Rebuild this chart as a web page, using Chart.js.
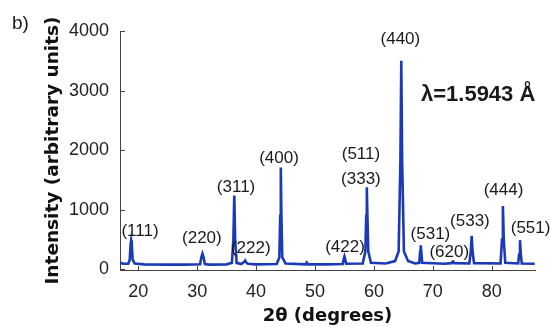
<!DOCTYPE html>
<html>
<head>
<meta charset="utf-8">
<script src="https://cdn.jsdelivr.net/npm/chart.js@4/dist/chart.umd.min.js"></script>
<style>
html,body{margin:0;padding:0;background:#fff;}
canvas{display:block;}
</style>
</head>
<body>
<canvas id="c" width="550" height="327"></canvas>
<script>
// ---- data ----
const twoTheta = [16.9,17.5,18.3,18.55,18.7,18.8,18.9,19.05,19.4,21,25,28,30.5,30.7,30.9,31.1,31.3,32,35,35.9,36.15,36.3,36.45,36.7,37.5,38.0,38.15,38.3,38.6,40,43.5,43.95,44.1,44.2,44.3,44.45,45,48.4,48.6,48.8,52,54.7,54.9,55.0,55.1,55.3,58.1,58.55,58.7,58.8,58.9,59.05,59.5,62,63.6,64.2,64.5,64.65,64.8,65.1,65.8,67,67.7,67.85,67.95,68.05,68.2,72,73.2,73.35,73.5,73.65,76.2,76.45,76.6,76.75,77.0,81.5,81.75,81.9,82.05,82.3,84.5,84.65,84.8,84.95,85.1,87.3];
const intensity = [110,95,95,160,420,490,420,160,100,85,80,80,85,200,265,200,90,80,85,110,500,1240,500,110,90,130,150,120,95,85,90,200,900,1710,900,200,100,85,115,85,85,90,180,215,180,95,100,300,900,1380,900,300,110,100,140,300,1800,3500,1800,300,140,100,110,300,405,300,110,95,105,130,130,105,100,300,565,300,105,100,500,1065,500,110,100,250,490,250,100,95];
const peakLabels = ['(111)','(220)','(311)','(222)','(400)','(422)','(511)','(333)','(440)','(531)','(620)','(533)','(444)','(551)'];
const labelAngle = [20.3,30.8,36.6,39.1,43.9,55.1,57.8,57.8,64.5,69.6,72.8,76.3,82.0,86.6];
const labelIntensity = [633,517,1378,350,1860,378,1930,1515,3860,585,285,805,1320,683];
const xTicks = [20,30,40,50,60,70,80];
const yTicks = [0,1000,2000,3000,4000];
const wavelengthText = 'λ=1.5943 Å';
const wavelengthPos = [77.7, 2933];
const panelLabel = 'b)';
const xTitle = '2θ (degrees)';
const yTitle = 'Intensity (arbitrary units)';

const points = twoTheta.map((t, i) => ({x: t, y: intensity[i]}));

const annot = {
  id: 'annot',
  afterDraw(chart) {
    const {ctx, scales: {x, y}, chartArea} = chart;
    ctx.save();
    // inward tick marks
    ctx.strokeStyle = '#444';
    ctx.lineWidth = 1;
    yTicks.forEach(v => {
      const py = Math.round(y.getPixelForValue(v)) + 0.5;
      ctx.beginPath(); ctx.moveTo(chartArea.left, py); ctx.lineTo(chartArea.left + 5, py); ctx.stroke();
    });
    xTicks.forEach(v => {
      const px = Math.round(x.getPixelForValue(v)) + 0.5;
      ctx.beginPath(); ctx.moveTo(px, chartArea.bottom); ctx.lineTo(px, chartArea.bottom - 4); ctx.stroke();
    });
    // peak labels
    ctx.fillStyle = '#1a1a1a';
    ctx.font = '17px "Liberation Sans", Arial, sans-serif';
    ctx.textAlign = 'center';
    ctx.textBaseline = 'middle';
    peakLabels.forEach((t, i) => {
      ctx.fillText(t, x.getPixelForValue(labelAngle[i]), y.getPixelForValue(labelIntensity[i]));
    });
    // wavelength
    ctx.font = 'bold 22px "Liberation Sans", Arial, sans-serif';
    ctx.fillText(wavelengthText, x.getPixelForValue(wavelengthPos[0]), y.getPixelForValue(wavelengthPos[1]));
    // panel label
    ctx.font = '19px "Liberation Sans", Arial, sans-serif';
    ctx.textAlign = 'left';
    ctx.fillText(panelLabel, 12, 24);
    ctx.restore();
  }
};

new Chart(document.getElementById('c'), {
  type: 'line',
  data: {
    datasets: [{
      data: points,
      borderColor: '#1a3ab6',
      borderWidth: 2.6,
      pointRadius: 0,
      tension: 0,
      fill: false
    }]
  },
  options: {
    responsive: false,
    animation: false,
    events: [],
    layout: {padding: {top: 31, right: 15, left: 0, bottom: 0}},
    plugins: {legend: {display: false}, tooltip: {enabled: false}},
    scales: {
      x: {
        type: 'linear',
        min: 16.9,
        max: 87.35,
        afterBuildTicks: s => { s.ticks = xTicks.map(v => ({value: v})); },
        afterFit: s => { s.height = 57; },
        grid: {display: false, drawTicks: false},
        border: {display: true, color: '#444', width: 1},
        ticks: {color: '#222', font: {family: '"Liberation Sans", Arial, sans-serif', size: 18}, padding: 11, autoSkip: false, maxRotation: 0, callback: v => String(v)},
        title: {display: true, text: xTitle, color: '#111', font: {family: '"DejaVu Sans", sans-serif', size: 18, weight: 'bold'}, padding: {top: 0, bottom: 0}}
      },
      y: {
        type: 'linear',
        min: -10,
        max: 4000,
        afterBuildTicks: s => { s.ticks = yTicks.map(v => ({value: v})); },
        afterFit: s => { s.width = 120; },
        grid: {display: false, drawTicks: false},
        border: {display: true, color: '#444', width: 1},
        ticks: {color: '#222', font: {family: '"Liberation Sans", Arial, sans-serif', size: 18}, padding: 11, callback: v => String(v)},
        title: {display: true, text: yTitle, color: '#111', font: {family: '"DejaVu Sans", sans-serif', size: 18.5, weight: 'bold'}, padding: {top: 42, bottom: 0}}
      }
    }
  },
  plugins: [annot]
});
</script>
</body>
</html>
